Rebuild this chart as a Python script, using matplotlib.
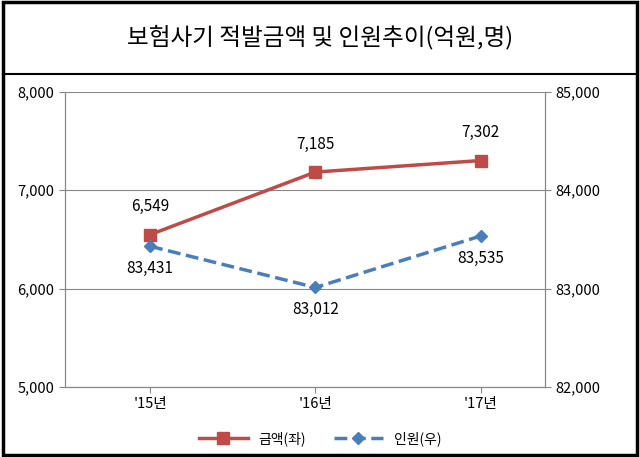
import matplotlib.pyplot as plt
from matplotlib.patches import Rectangle
from matplotlib.lines import Line2D

plt.rcParams['font.family'] = ['Noto Sans CJK KR', 'Noto Sans CJK JP', 'Noto Sans CJK SC',
                               'Noto Sans CJK TC', 'DejaVu Sans']

years = ["'15년", "'16년", "'17년"]
amount = [6549, 7185, 7302]
people = [83431, 83012, 83535]
title = '보험사기 적발금액 및 인원추이(억원,명)'

red = '#BE4B48'
blue = '#4A7EBB'

fig = plt.figure(figsize=(6.4, 4.57), dpi=100, facecolor='w')
# outer frame and title divider
fig.add_artist(Rectangle((0.004, 0.004), 0.992, 0.992, transform=fig.transFigure,
                         fill=False, lw=2.5, ec='black'))
fig.add_artist(Line2D([0.004, 0.996], [0.838, 0.838], transform=fig.transFigure,
                      color='black', lw=1.5))
fig.text(0.5, 0.918, title, ha='center', va='center', fontsize=17)

ax = fig.add_axes([0.1016, 0.153, 0.75, 0.646])
x = range(len(years))
ax.plot(x, amount, color=red, lw=2.5, marker='s', ms=8, label='금액(좌)')
ax.set_ylim(5000, 8000)
ax.set_yticks([5000, 6000, 7000, 8000])
ax.set_yticklabels(['5,000', '6,000', '7,000', '8,000'])
ax.set_xlim(-0.515, 2.39)
ax.set_xticks(list(x))
ax.set_xticklabels(years)
ax.grid(axis='y', color='#888888', lw=0.8)
ax.set_axisbelow(True)

ax2 = ax.twinx()
ax2.plot(x, people, color=blue, lw=2.5, ls='--', marker='D', ms=6, label='인원(우)')
ax2.set_ylim(82000, 85000)
ax2.set_yticks([82000, 83000, 84000, 85000])
ax2.set_yticklabels(['82,000', '83,000', '84,000', '85,000'])

for a in (ax, ax2):
    for s in a.spines.values():
        s.set_color('#888888')
    a.tick_params(colors='black', labelsize=10.5, length=4, color='#888888')
ax.spines['top'].set_visible(False)
ax2.spines['top'].set_visible(False)

for i, v in enumerate(amount):
    ax.annotate(f'{v:,}', (i, v), xytext=(0, 14), textcoords='offset points',
                ha='center', va='bottom', fontsize=11)
for i, v in enumerate(people):
    ax2.annotate(f'{v:,}', (i, v), xytext=(0, -10), textcoords='offset points',
                 ha='center', va='top', fontsize=11)

h1, l1 = ax.get_legend_handles_labels()
h2, l2 = ax2.get_legend_handles_labels()
fig.legend(h1 + h2, l1 + l2, loc='center', bbox_to_anchor=(0.5, 0.04), ncol=2,
           frameon=False, fontsize=10, handlelength=3.5)

fig.savefig('out.png', dpi=100, facecolor='w')
